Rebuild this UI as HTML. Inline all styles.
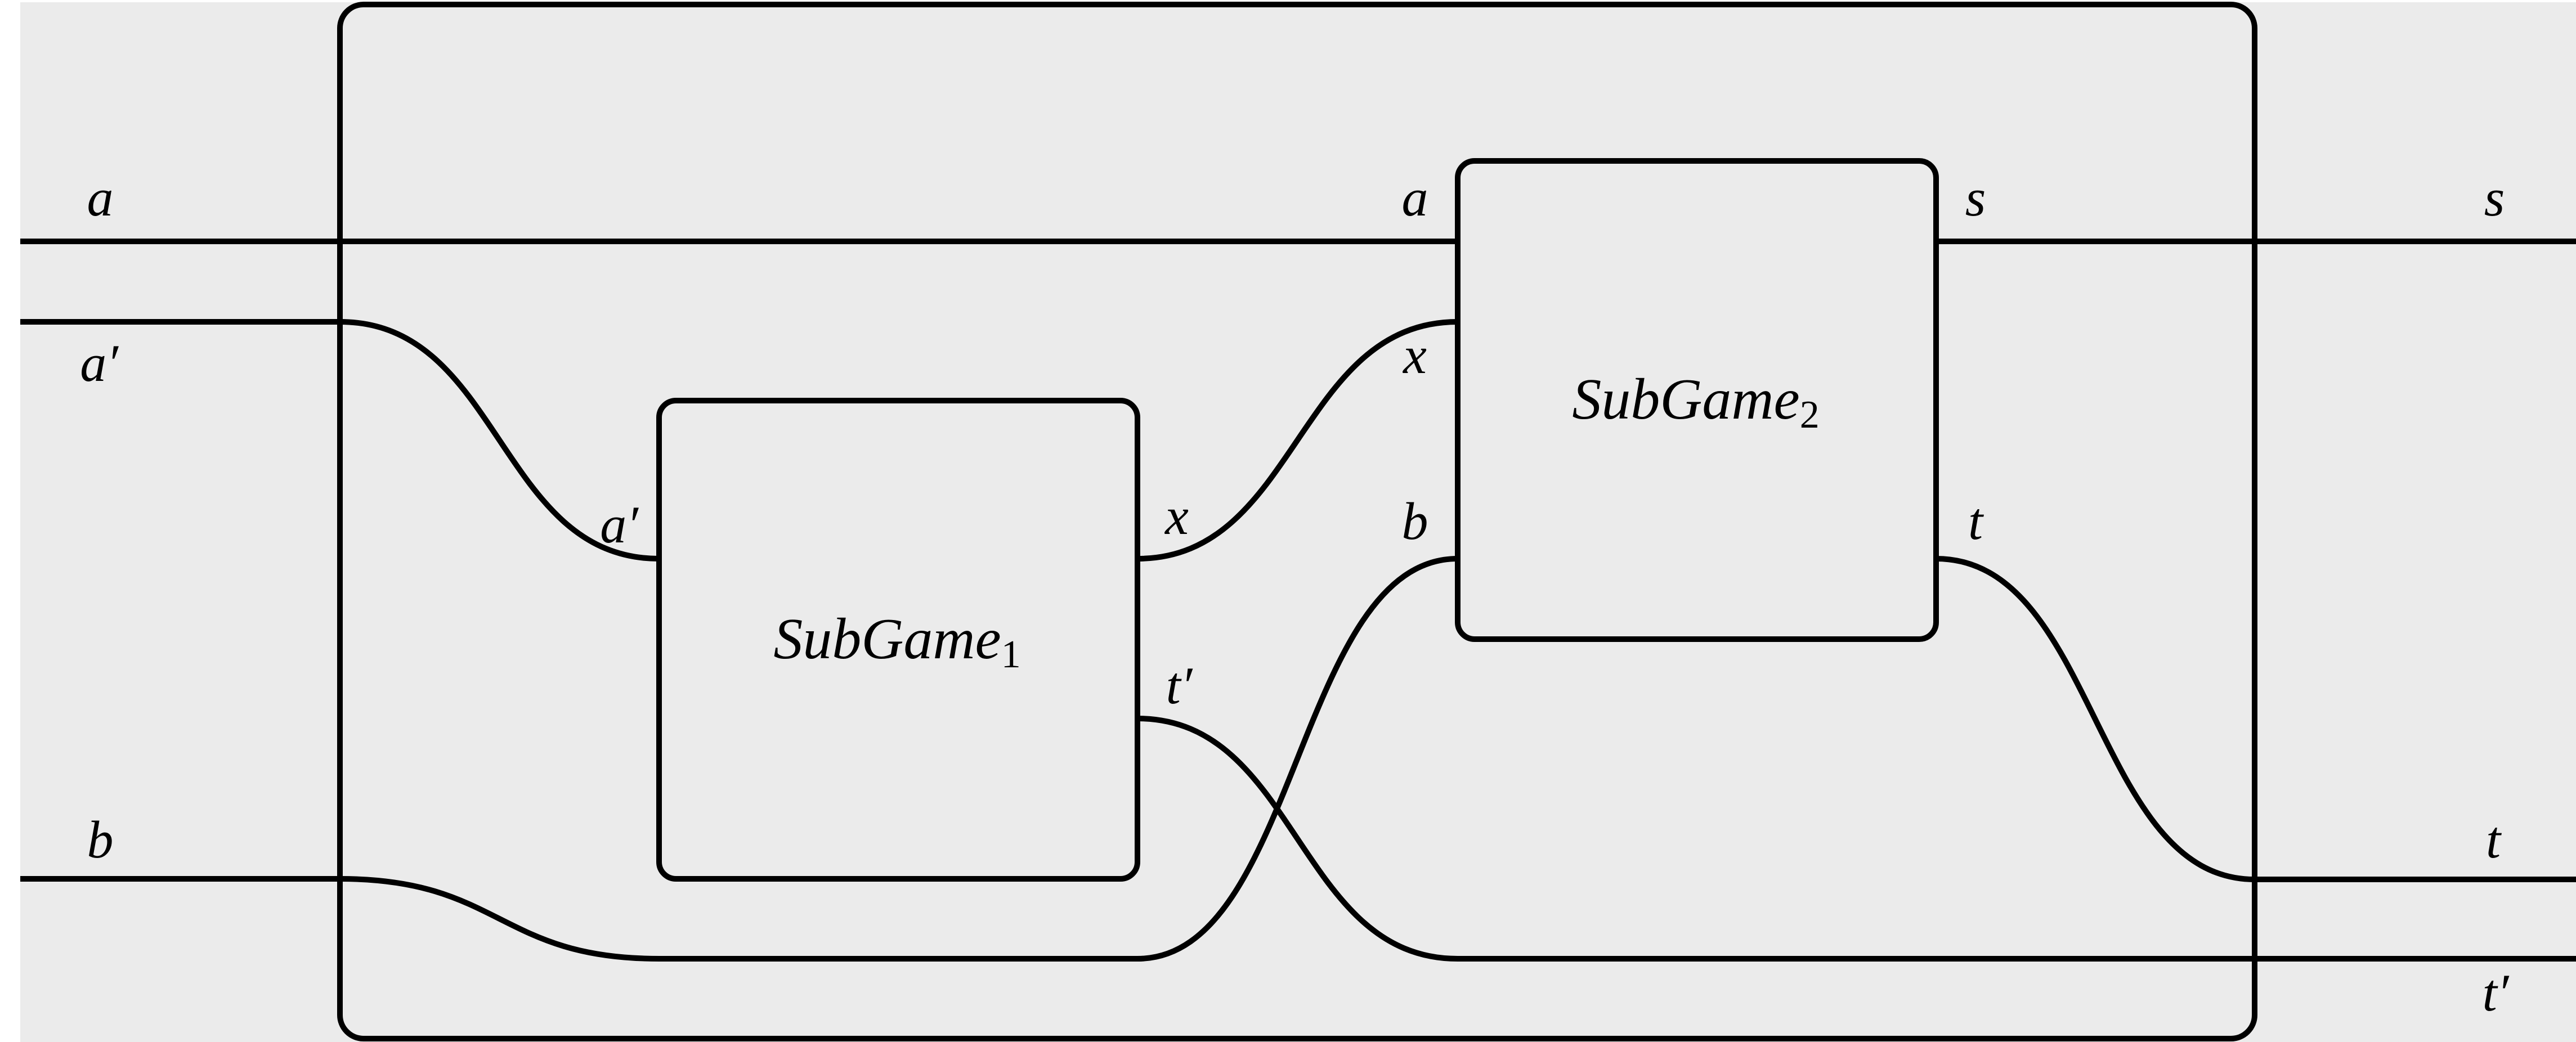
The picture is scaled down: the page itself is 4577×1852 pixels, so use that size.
<!DOCTYPE html>
<html><head><meta charset="utf-8"><style>
html,body{margin:0;padding:0;background:#fff;}
svg{display:block;}
text{font-family:"Liberation Serif",serif;font-style:italic;fill:#000;}
</style></head><body>
<svg width="4577" height="1852" viewBox="0 0 4577 1852" xmlns="http://www.w3.org/2000/svg">
<rect x="36" y="4" width="4541" height="1848" fill="#ebebeb"/>
<g fill="none" stroke="#000" stroke-width="10">
<rect x="604" y="8" width="3402" height="1838" rx="42" ry="42"/>
<rect x="1171" y="712" width="850" height="850" rx="30" ry="30"/>
<rect x="2590" y="286" width="850" height="850" rx="30" ry="30"/>
<path d="M36 429 H2590"/>
<path d="M3440 429 H4577"/>
<path d="M36 572 H604 C890 572 885 993 1171 993"/>
<path d="M2021 993 C2305 993 2305 572 2590 572"/>
<path d="M2021 1277 C2305 1277 2305 1704 2590 1704 H4577"/>
<path d="M36 1562 H604 C890 1562 885 1704 1171 1704 H2021 C2305 1704 2305 993 2590 993"/>
<path d="M3440 993 C3725 993 3720 1563 4006 1563 H4577"/>
</g>
<g font-size="94" text-anchor="middle">
<text x="178" y="383">a</text>
<text x="176" y="677">a′</text>
<text x="178" y="1524">b</text>
<text x="2514" y="383">a</text>
<text x="2514" y="663">x</text>
<text x="2514" y="958">b</text>
<text x="3510" y="383">s</text>
<text x="3510" y="958">t</text>
<text x="1100" y="964">a′</text>
<text x="2091" y="949">x</text>
<text x="2095" y="1250">t′</text>
<text x="4432" y="383">s</text>
<text x="4430" y="1524">t</text>
<text x="4434" y="1796">t′</text>
</g>
<g font-size="104" text-anchor="middle">
<text x="1594" y="1170">SubGame<tspan font-style="normal" font-size="70" dy="16">1</tspan></text>
<text x="3013" y="744">SubGame<tspan font-style="normal" font-size="70" dy="16">2</tspan></text>
</g>
</svg>
</body></html>
